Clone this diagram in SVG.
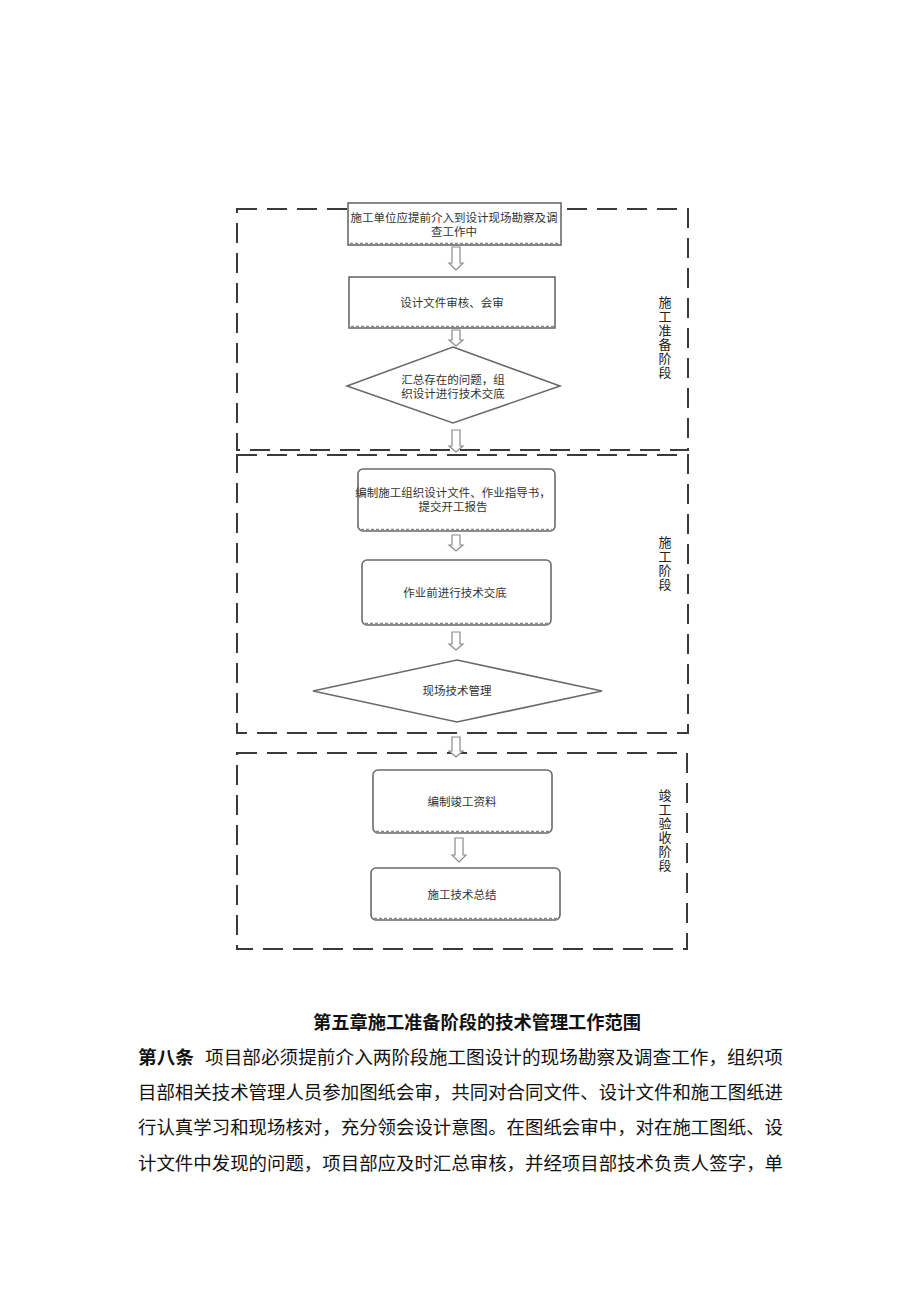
<svg xmlns="http://www.w3.org/2000/svg" width="920" height="1302" viewBox="0 0 920 1302">
<style>
.stage{fill:none;stroke:#3a3a3a;stroke-width:2;stroke-dasharray:20 10}
.node{fill:#fff;stroke:#6a6a6a;stroke-width:1.6}
.shadow{fill:none;stroke:#888;stroke-width:2.5;stroke-dasharray:3 2}
.t{font-family:"Noto Sans CJK SC",sans-serif;font-size:11.5px;fill:#333;text-anchor:middle}
.lab{font-family:"Noto Sans CJK SC",sans-serif;font-size:13px;fill:#222;writing-mode:vertical-rl;letter-spacing:1px}
.arr{fill:#fff;stroke:#8a8a8a;stroke-width:1.2}
.body{font-family:"Noto Sans CJK SC",sans-serif;font-size:18px;fill:#111}
</style>
<rect width="920" height="1302" fill="#fff"/>
<g id="stages">
<rect id="stage1" class="stage" x="237" y="209" width="451" height="241"/>
<rect id="stage2" class="stage" x="237" y="455" width="451" height="278"/>
<rect id="stage3" class="stage" x="237" y="753" width="450" height="196"/>
</g>
<g id="connectors">
<path class="arr" d="M452 247H460V263H463L456 270L449 263H452Z"/>
<path class="arr" d="M452 330H460V340H463L456 346L449 340H452Z"/>
<path class="arr" d="M452 430H460V446H463L456 452L449 446H452Z"/>
<path class="arr" d="M452 535H460V545H463L456 551L449 545H452Z"/>
<path class="arr" d="M452 632H460V644H463L456 650L449 644H452Z"/>
<path class="arr" d="M452 737H460V751H463L456 757L449 751H452Z"/>
<path class="arr" d="M455 838H463V855H466L459 862L452 855H455Z"/>
</g>
<g id="n1">
<rect class="node" x="348" y="203" width="213" height="42"/>
<line class="shadow" x1="350" y1="244" x2="560" y2="244"/>
<text class="t" x="454" y="222">施工单位应提前介入到设计现场勘察及调</text>
<text class="t" x="454" y="236">查工作中</text>
</g>
<g id="n2">
<rect class="node" x="349" y="277" width="206" height="51"/>
<line class="shadow" x1="351" y1="327" x2="554" y2="327"/>
<text class="t" x="452" y="307">设计文件审核、会审</text>
</g>
<g id="n3">
<polygon class="node" points="453,347 560,386 453,423 347,386"/>
<text class="t" x="453" y="384">汇总存在的问题，组</text>
<text class="t" x="453" y="398">织设计进行技术交底</text>
</g>
<g id="n4">
<rect class="node" x="358" y="469" width="197" height="62" rx="5"/>
<line class="shadow" x1="361" y1="530" x2="552" y2="530"/>
<text class="t" x="453" y="497">编制施工组织设计文件、作业指导书，</text>
<text class="t" x="453" y="511">提交开工报告</text>
</g>
<g id="n5">
<rect class="node" x="362" y="560" width="189" height="65" rx="5"/>
<line class="shadow" x1="365" y1="624" x2="548" y2="624"/>
<text class="t" x="455" y="597">作业前进行技术交底</text>
</g>
<g id="n6">
<polygon class="node" points="457,660 602,691 457,722 313,691"/>
<text class="t" x="457" y="695">现场技术管理</text>
</g>
<g id="n7">
<rect class="node" x="373" y="770" width="179" height="63" rx="5"/>
<line class="shadow" x1="376" y1="832" x2="549" y2="832"/>
<text class="t" x="462" y="806">编制竣工资料</text>
</g>
<g id="n8">
<rect class="node" x="371" y="868" width="189" height="52" rx="5"/>
<line class="shadow" x1="374" y1="919" x2="557" y2="919"/>
<text class="t" x="462" y="899">施工技术总结</text>
</g>
<g id="labels">
<text class="lab" x="665" y="296">施工准备阶段</text>
<text class="lab" x="665" y="536">施工阶段</text>
<text class="lab" x="665" y="789">竣工验收阶段</text>
</g>
<g id="text">
<text class="body" x="313" y="1029" font-weight="bold" font-size="17" textLength="328" lengthAdjust="spacingAndGlyphs">第五章施工准备阶段的技术管理工作范围</text>
<text class="body" x="138" y="1064" font-weight="bold" textLength="56" lengthAdjust="spacingAndGlyphs">第八条</text>
<text class="body" x="205" y="1064" textLength="578" lengthAdjust="spacingAndGlyphs">项目部必须提前介入两阶段施工图设计的现场勘察及调查工作，组织项</text>
<text class="body" x="138" y="1099" textLength="645" lengthAdjust="spacingAndGlyphs">目部相关技术管理人员参加图纸会审，共同对合同文件、设计文件和施工图纸进</text>
<text class="body" x="138" y="1134" textLength="645" lengthAdjust="spacingAndGlyphs">行认真学习和现场核对，充分领会设计意图。在图纸会审中，对在施工图纸、设</text>
<text class="body" x="138" y="1170" textLength="645" lengthAdjust="spacingAndGlyphs">计文件中发现的问题，项目部应及时汇总审核，并经项目部技术负责人签字，单</text>
</g>
</svg>
